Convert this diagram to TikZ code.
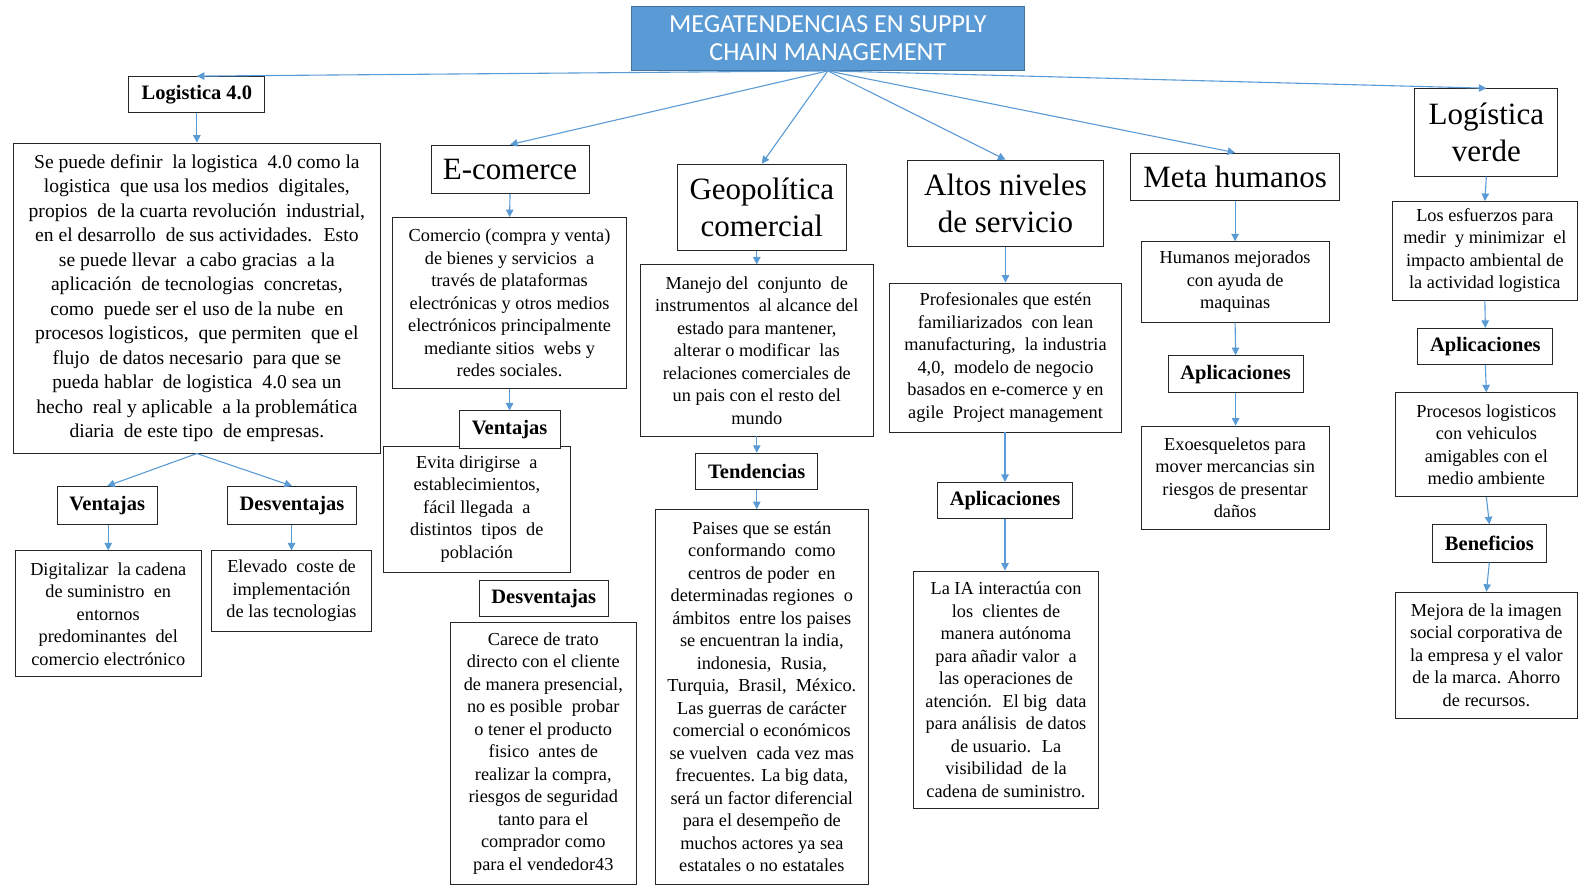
\documentclass[tikz,border=0pt]{standalone}
\usepackage{fontspec}
\setmainfont{Liberation Serif}
\newfontfamily\carl{Carlito}
\usetikzlibrary{arrows.meta,fit}
\definecolor{abl}{HTML}{5B9BD5}
\definecolor{tfill}{HTML}{5B9BD5}
\definecolor{tdraw}{HTML}{41719C}
\newcommand\mybody{\fontsize{18.3}{22.5}\selectfont}
\newcommand\mybig{\fontsize{19.6}{24.5}\selectfont}
\newcommand\myhead{\fontsize{31}{37}\selectfont}
\newcommand\mylab{\fontsize{20.5}{22}\selectfont\bfseries}
\newcommand\mytitle{\carl\fontsize{26}{28}\selectfont}
\tikzset{
  frame/.style={draw=black!85, line width=0.8pt, inner sep=0pt, fill=white},
  tframe/.style={draw=tdraw, fill=tfill, line width=0.8pt, inner sep=0pt},
  txt/.style={inner sep=0pt, align=center, font=\mybody},
  bigtxt/.style={txt, font=\mybig},
  hdtxt/.style={txt, font=\myhead},
  labtxt/.style={txt, font=\mylab},
  ttxt/.style={txt, text=white, font=\mytitle},
  conn/.style={draw=abl, line width=1.1pt, -{Triangle[length=7.5pt,width=7.5pt]}},
}
\begin{document}
\begin{tikzpicture}[x=1.007pt,y=-1.007pt]
\useasboundingbox (0,0) rectangle (1568,880);
% title
\node[tframe, fit={(627,6)(1017,70)}] (T) {};
\node[ttxt] (Tt) at (T.center) {MEGATENDENCIAS EN SUPPLY\\CHAIN MANAGEMENT};

% column 1: Logistica 4.0
\node[frame, fit={(128,76)(263,112)}] (L0) {};
\node[labtxt] (L0t) at (L0.center) {Logistica 4.0};
\node[frame, fit={(13,142)(378,450)}] (L1) {};
\node[bigtxt] (L1t) at (L1.center) {Se puede definir \ la logistica \ 4.0 como la\\logistica \ que usa los medios \ digitales,\\propios \ de la cuarta revolución \ industrial,\\en el desarrollo \ de sus actividades. \ Esto\\se puede llevar \ a cabo gracias \ a la\\aplicación \ de tecnologias \ concretas,\\como \ puede ser el uso de la nube \ en\\procesos logisticos, \ que permiten \ que el\\flujo \ de datos necesario \ para que se\\pueda hablar \ de logistica \ 4.0 sea un\\hecho \ real y aplicable \ a la problemática\\diaria \ de este tipo \ de empresas.};
\node[frame, fit={(57,483)(156,521)}] (LV) {};
\node[labtxt] (LVt) at (LV.center) {Ventajas};
\node[frame, fit={(226,483)(354,521)}] (LD) {};
\node[labtxt] (LDt) at (LD.center) {Desventajas};
\node[frame, fit={(15,547)(200,672)}] (LV1) {};
\node[txt] (LV1t) at (LV1.center) {Digitalizar \ la cadena\\de suministro \ en\\entornos\\predominantes \ del\\comercio electrónico};
\node[frame, fit={(210,547)(369,627)}] (LD1) {};
\node[txt] (LD1t) at (LD1.center) {Elevado \ coste de\\implementación\\de las tecnologias};

% column 2: E-comerce
\node[frame, fit={(428,144)(585,192)}] (E0) {};
\node[hdtxt] (E0t) at (E0.center) {E-comerce};
\node[frame, fit={(390,216)(622,386)}] (E1) {};
\node[txt] (E1t) at (E1.center) {Comercio (compra y venta)\\de bienes y servicios \ a\\través de plataformas\\electrónicas y otros medios\\electrónicos principalmente\\mediante sitios \ webs y\\redes sociales.};
\node[frame, fit={(381,443)(566,568)}] (E3) {};
\node[txt] (E3t) at (E3.center) {Evita dirigirse \ a\\establecimientos,\\fácil llegada \ a\\distintos \ tipos \ de\\población};
\node[frame, fit={(456,408)(556,445)}] (EV) {};
\node[labtxt] (EVt) at (EV.center) {Ventajas};
\node[frame, fit={(476,576)(604,612)}] (ED) {};
\node[labtxt] (EDt) at (ED.center) {Desventajas};
\node[frame, fit={(447,618)(632,878)}] (E4) {};
\node[txt] (E4t) at (E4.center) {Carece de trato\\directo con el cliente\\de manera presencial,\\no es posible \ probar\\o tener el producto\\fisico \ antes de\\realizar la compra,\\riesgos de seguridad\\tanto para el\\comprador como\\para el vendedor43};

% column 3: Geopolitica
\node[frame, fit={(673,163)(840,249)}] (G0) {};
\node[hdtxt] (G0t) at (G0.center) {Geopolítica\\comercial};
\node[frame, fit={(636,263)(867,433)}] (G1) {};
\node[txt] (G1t) at (G1.center) {Manejo del \ conjunto \ de\\instrumentos \ al alcance del\\estado para mantener,\\alterar o modificar \ las\\relaciones comerciales de\\un pais con el resto del\\mundo};
\node[frame, fit={(691,450)(812,486)}] (GT) {};
\node[labtxt] (GTt) at (GT.center) {Tendencias};
\node[frame, fit={(651,506)(862,878)}] (G2) {};
\node[txt] (G2t) at (G2.center) {Paises que se están\\conformando \ como\\centros de poder \ en\\determinadas regiones \ o\\ámbitos \ entre los paises\\se encuentran la india,\\indonesia, \ Rusia,\\Turquia, \ Brasil, \ México.\\Las guerras de carácter\\comercial o económicos\\se vuelven \ cada vez mas\\frecuentes. La big data,\\será un factor diferencial\\para el desempeño de\\muchos actores ya sea\\estatales o no estatales};

% column 4: Altos niveles
\node[frame, fit={(901,159)(1096,245)}] (A0) {};
\node[hdtxt] (A0t) at (A0.center) {Altos niveles\\de servicio};
\node[frame, fit={(883,281)(1114,429)}] (A1) {};
\node[txt] (A1t) at (A1.center) {Profesionales que estén\\familiarizados \ con lean\\manufacturing, \ la industria\\4,0, \ modelo de negocio\\basados en e-comerce y en\\agile \ Project management};
\node[frame, fit={(931,479)(1065,515)}] (AA) {};
\node[labtxt] (AAt) at (AA.center) {Aplicaciones};
\node[frame, fit={(907,567)(1091,803)}] (A2) {};
\node[txt] (A2t) at (A2.center) {La IA interactúa con\\los \ clientes de\\manera autónoma\\para añadir valor \ a\\las operaciones de\\atención. \ El big \ data\\para análisis \ de datos\\de usuario. \ La\\visibilidad \ de la\\cadena de suministro.};

% column 5: Meta humanos
\node[frame, fit={(1123,152)(1330,199)}] (M0) {};
\node[hdtxt] (M0t) at (M0.center) {Meta humanos};
\node[frame, fit={(1133,240)(1320,320)}] (M1) {};
\node[txt] (M1t) at (M1.center) {Humanos mejorados\\con ayuda de\\maquinas};
\node[frame, fit={(1160,353)(1294,390)}] (MA) {};
\node[labtxt] (MAt) at (MA.center) {Aplicaciones};
\node[frame, fit={(1133,423)(1320,526)}] (M2) {};
\node[txt] (M2t) at (M2.center) {Exoesqueletos para\\mover mercancias sin\\riesgos de presentar\\daños};

% column 6: Logistica verde
\node[frame, fit={(1405,88)(1547,175)}] (V0) {};
\node[hdtxt] (V0t) at (V0.center) {Logística\\verde};
\node[frame, fit={(1383,200)(1566,298)}] (V1) {};
\node[txt] (V1t) at (V1.center) {Los esfuerzos para\\medir \ y minimizar \ el\\impacto ambiental de\\la actividad logistica};
\node[frame, fit={(1408,326)(1542,362)}] (VA) {};
\node[labtxt] (VAt) at (VA.center) {Aplicaciones};
\node[frame, fit={(1386,390)(1566,493)}] (V2) {};
\node[txt] (V2t) at (V2.center) {Procesos logisticos\\con vehiculos\\amigables con el\\medio ambiente};
\node[frame, fit={(1422,521)(1536,558)}] (VB) {};
\node[labtxt] (VBt) at (VB.center) {Beneficios};
\node[frame, fit={(1386,588)(1566,713)}] (V3) {};
\node[txt] (V3t) at (V3.center) {Mejora de la imagen\\social corporativa de\\la empresa y el valor\\de la marca. Ahorro\\de recursos.};

% connectors from title
\coordinate (TS) at (T.south);
\draw[conn] (TS) -- (L0.north);
\draw[conn] (TS) -- (E0.north);
\draw[conn] (TS) -- (G0.north);
\draw[conn] (TS) -- (A0.north);
\draw[conn] (TS) -- (M0.north);
\draw[conn] (TS) -- (V0.north);

% column connectors
\draw[conn] (L0.south) -- (L1.north);
\draw[conn] (L1.south) -- (LV.north);
\draw[conn] (L1.south) -- (LD.north);
\draw[conn] (LV1.north |- LV.south) -- (LV1.north);
\draw[conn] (LD1.north |- LD.south) -- (LD1.north);

\draw[conn] (E0.south) -- (E1.north);
\draw[conn] (EV.north |- E1.south) -- (EV.north);

\draw[conn] (G1.north |- G0.south) -- (G1.north);
\draw[conn] (G1.south) -- (GT.north);
\draw[conn] (GT.south) -- (GT.south |- G2.north);

\draw[conn] (A0.south) -- (A0.south |- A1.north);
\draw[conn] (AA.north |- A1.south) -- (AA.north);
\draw[conn] (AA.south) -- (AA.south |- A2.north);

\draw[conn] (M0.south) -- (M1.north);
\draw[conn] (M1.south) -- (MA.north);
\draw[conn] (MA.south) -- (MA.south |- M2.north);

\draw[conn] (V0.south) -- (V1.north);
\draw[conn] (V1.south) -- (VA.north);
\draw[conn] (VA.south) -- (V2.north);
\draw[conn] (V2.south) -- (VB.north);
\draw[conn] (VB.south) -- (V3.north);
\end{tikzpicture}
\end{document}
